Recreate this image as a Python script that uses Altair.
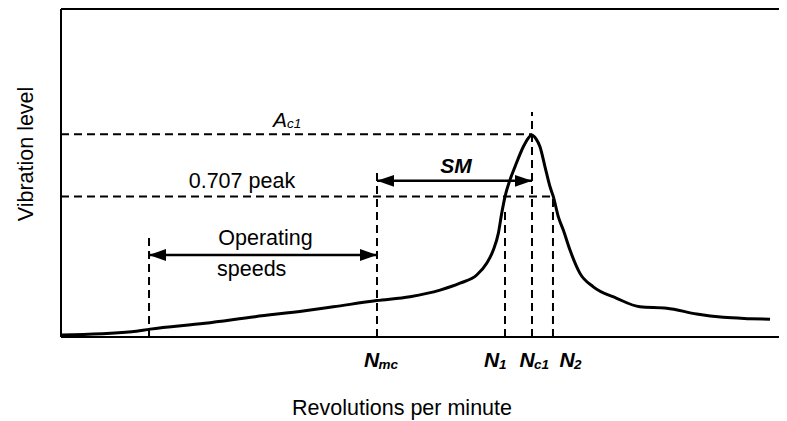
import altair as alt
import pandas as pd

FONT = "Liberation Sans"

# ---- response curve (rpm in arbitrary units 0..1000, level 0..100) ----
rpm = [1, 98.5, 124, 200.6, 270.2, 339.8, 379.2, 439.7, 486.1, 527.9, 555.7, 579.0,
       592.9, 602.1, 609.1, 613.8, 618.4, 624.4, 632.3, 643.9, 650.4, 655.6, 661.6,
       667.1, 674.1, 681.1, 685.7, 692.6, 699.6, 708.9, 722.8, 741.4, 774.0, 806.4,
       843.6, 885.4, 922.4, 959.6, 987.5]
level = [0.6, 1.6, 2.4, 4.2, 6.2, 8.0, 9.2, 11.1, 12.3, 14.3, 16.4, 18.9,
         22.5, 26.5, 31.6, 37.7, 42.8, 47.3, 51.9, 58.0, 60.5, 61.6, 60.4,
         58.0, 51.9, 45.8, 42.8, 36.7, 32.6, 26.5, 19.4, 15.3, 11.8, 9.2,
         8.8, 7.0, 6.0, 5.6, 5.4]

# ---- key speeds and levels ----
op_low = 122.6
n_mc = 440.1
n_1 = 618.4
n_c1 = 656.0
n_2 = 685.2
a_c1 = 61.8
l707 = 42.8

# dashed guide segments
dash_x = [op_low, n_mc, n_1, n_c1, n_2, 0, 0]
dash_x2 = [op_low, n_mc, n_1, n_c1, n_2, n_c1, n_2]
dash_y = [0, 0, 0, 0, 0, a_c1, l707]
dash_y2 = [31.7, 50.0, 39.0, 68.6, 42.8, a_c1, l707]

# arrows
arrow_from = [op_low, n_mc]
arrow_to = [n_mc, n_c1]
arrow_level = [25.0, 47.6]

# plain labels (incl. axis titles)
plain_text = ["0.707 peak", "Operating", "speeds", "Revolutions per minute"]
plain_x = [252.0, 284.8, 265.6, 475.0]
plain_y = [45.3, 28.0, 18.6, -23.8]
y_title = ["Vibration level"]
y_title_x = [-38.6]
y_title_y = [55.8]

# symbol labels with subscripts
sym_main = ["A", "N", "N", "N", "N"]
sym_main_x = [295.3, 422.0, 589.1, 638.6, 694.3]
sym_main_y = [64.0, -9.05, -9.05, -9.05, -9.05]
sym_weight = ["normal", "bold", "bold", "bold", "bold"]
sym_sub = ["c1", "mc", "1", "c1", "2"]
sym_sub_x = [314.8, 442.2, 610.0, 658.8, 714.5]
sym_sub_y = [63.6, -9.8, -9.8, -9.8, -9.8]

sm_text = ["SM"]
sm_x = [550.1]
sm_y = [50.0]

W, H = 718, 328
XS = alt.Scale(domain=[0, 1000], nice=False, zero=False)
YS = alt.Scale(domain=[0, 100], nice=False, zero=False)


def xy(xf="x:Q", yf="y:Q"):
    return dict(x=alt.X(xf, scale=XS, axis=None), y=alt.Y(yf, scale=YS, axis=None))


curve_df = pd.DataFrame({"x": rpm, "y": level})
curve = alt.Chart(curve_df).mark_line(
    color="black", strokeWidth=3, interpolate="monotone"
).encode(**xy())

dash_df = pd.DataFrame({"x": dash_x, "x2": dash_x2, "y": dash_y, "y2": dash_y2})
dashes = alt.Chart(dash_df).mark_rule(
    color="black", strokeWidth=2, strokeDash=[8, 5]
).encode(x2="x2:Q", y2="y2:Q", **xy())

arrow_df = pd.DataFrame({"x": arrow_from, "x2": arrow_to, "y": arrow_level})
arrow_lines = alt.Chart(arrow_df).mark_rule(color="black", strokeWidth=2.5).encode(
    x2="x2:Q", **xy()
)
heads_left = alt.Chart(arrow_df).mark_point(
    shape="M0,0L2,-0.7L2,0.7Z", filled=True, size=289, color="black",
    opacity=1, strokeWidth=0
).encode(**xy())
heads_right = alt.Chart(arrow_df).mark_point(
    shape="M0,0L-2,-0.7L-2,0.7Z", filled=True, size=289, color="black",
    opacity=1, strokeWidth=0
).encode(**xy("x2:Q"))

plain_df = pd.DataFrame({"t": plain_text, "x": plain_x, "y": plain_y})
plain = alt.Chart(plain_df).mark_text(
    font=FONT, fontSize=21.5, color="black", align="center", baseline="alphabetic"
).encode(text="t:N", **xy())

yt_df = pd.DataFrame({"t": y_title, "x": y_title_x, "y": y_title_y})
ytitle = alt.Chart(yt_df).mark_text(
    font=FONT, fontSize=21.5, color="black", align="center", baseline="alphabetic",
    angle=270
).encode(text="t:N", **xy())

sm_df = pd.DataFrame({"t": sm_text, "x": sm_x, "y": sm_y})
sm = alt.Chart(sm_df).mark_text(
    font=FONT, fontSize=21, fontStyle="italic", fontWeight="bold", color="black",
    align="center", baseline="alphabetic"
).encode(text="t:N", **xy())

main_df = pd.DataFrame({"t": sym_main, "x": sym_main_x, "y": sym_main_y, "w": sym_weight})
sub_df = pd.DataFrame({"t": sym_sub, "x": sym_sub_x, "y": sym_sub_y, "w": sym_weight})

main_a = alt.Chart(main_df[main_df.w == "normal"]).mark_text(
    font=FONT, fontSize=21, fontStyle="italic", color="black",
    align="left", baseline="alphabetic"
).encode(text="t:N", **xy())
main_n = alt.Chart(main_df[main_df.w == "bold"]).mark_text(
    font=FONT, fontSize=21, fontStyle="italic", fontWeight="bold", color="black",
    align="left", baseline="alphabetic"
).encode(text="t:N", **xy())
sub_a = alt.Chart(sub_df[sub_df.w == "normal"]).mark_text(
    font=FONT, fontSize=13.5, fontStyle="italic", color="black",
    align="left", baseline="alphabetic"
).encode(text="t:N", **xy())
sub_n = alt.Chart(sub_df[sub_df.w == "bold"]).mark_text(
    font=FONT, fontSize=13.5, fontStyle="italic", fontWeight="bold", color="black",
    align="left", baseline="alphabetic"
).encode(text="t:N", **xy())

# frame: top, left and bottom edges of the plot area (no right edge)
frame_df = pd.DataFrame({"a": [0]})
top_border = alt.Chart(frame_df).mark_rule(color="black", strokeWidth=2).encode(
    x=alt.value(0), x2=alt.value(W), y=alt.value(0))
left_border = alt.Chart(frame_df).mark_rule(color="black", strokeWidth=2).encode(
    x=alt.value(0), y=alt.value(0), y2=alt.value(H))
bottom_border = alt.Chart(frame_df).mark_rule(color="black", strokeWidth=2).encode(
    x=alt.value(0), x2=alt.value(W), y=alt.value(H))

chart = alt.layer(
    dashes, curve, arrow_lines, heads_left, heads_right,
    plain, ytitle, sm, main_a, main_n, sub_a, sub_n,
    top_border, left_border, bottom_border
).properties(
    width=W, height=H,
    background="white",
    autosize=alt.AutoSizeParams(type="none"),
    padding={"left": 53, "top": 1, "right": 0, "bottom": 84},
).configure_view(stroke=None)

chart.save("out.html", embed_options={"renderer": "svg", "actions": False})
